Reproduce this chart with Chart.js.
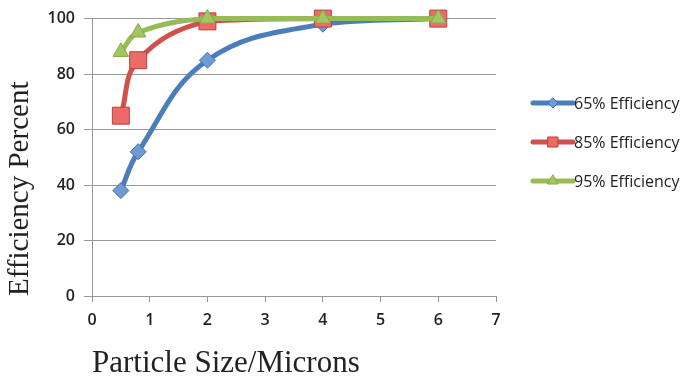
<!DOCTYPE html>
<html>
<head>
<meta charset="utf-8">
<script src="https://cdn.jsdelivr.net/npm/chart.js@4.4.0/dist/chart.umd.min.js"></script>
<style>
  html, body { margin: 0; padding: 0; background: #fff; }
</style>
</head>
<body>
<canvas id="effChart" width="684" height="379"></canvas>
<script>
// particle size in microns, efficiency in percent
const sizes = [0.5, 0.8, 2, 4, 6];
const eff65 = [38, 52, 85, 98, 100];
const eff85 = [65, 85, 99, 100, 100];
const eff95 = [88, 95, 100, 100, 100];
const seriesNames = ['65% Efficiency', '85% Efficiency', '95% Efficiency'];
const xTicks = [0, 1, 2, 3, 4, 5, 6, 7];
const yTicks = [0, 20, 40, 60, 80, 100];

const toPoints = (vals) => sizes.map((s, i) => ({ x: s, y: vals[i] }));

// own marker drawing, used by the legend
function drawMarker(ctx, style, x, y, r, fill, stroke) {
  ctx.beginPath();
  if (style === 'rectRot') {
    ctx.moveTo(x, y - r); ctx.lineTo(x + r, y); ctx.lineTo(x, y + r); ctx.lineTo(x - r, y);
  } else if (style === 'rect') {
    ctx.rect(x - r, y - r, 2 * r, 2 * r);
  } else {
    ctx.moveTo(x, y - r);
    ctx.lineTo(x + r * Math.cos(Math.PI / 6), y + r / 2);
    ctx.lineTo(x - r * Math.cos(Math.PI / 6), y + r / 2);
  }
  ctx.closePath();
  ctx.fillStyle = fill; ctx.fill();
  ctx.lineWidth = 1; ctx.strokeStyle = stroke; ctx.stroke();
}

const sideLegend = {
  id: 'sideLegend',
  afterDraw(chart) {
    const ctx = chart.ctx;
    const x0 = 533, x1 = 573;
    const rows = [103, 142, 181];
    chart.data.datasets.forEach((ds, i) => {
      const y = rows[i];
      ctx.save();
      ctx.strokeStyle = ds.borderColor;
      ctx.lineWidth = 5;
      ctx.lineCap = 'round';
      ctx.beginPath(); ctx.moveTo(x0, y); ctx.lineTo(x1, y); ctx.stroke();
      const r = ds.pointStyle === 'rect' ? 5 : ds.pointStyle === 'triangle' ? 6 : 5;
      drawMarker(ctx, ds.pointStyle, (x0 + x1) / 2, y, r, ds.pointBackgroundColor, ds.pointBorderColor);
      ctx.fillStyle = '#222';
      ctx.font = '16px "Open Sans"';
      ctx.textBaseline = 'middle';
      ctx.textAlign = 'left';
      ctx.fillText(ds.label, x1 + 1, y + 1);
      ctx.restore();
    });
  }
};

const base = { borderWidth: 5, tension: 0.4, clip: false, pointBorderWidth: 1 };
const tickFont = { family: 'Open Sans', size: 16, weight: '600' };

new Chart(document.getElementById('effChart'), {
  type: 'line',
  data: {
    datasets: [
      { ...base, label: seriesNames[0], data: toPoints(eff65), order: 3,
        borderColor: '#4a7ebb', pointStyle: 'rectRot', pointRadius: 8,
        pointBackgroundColor: '#6f9ad3', pointBorderColor: '#3f6fa8' },
      { ...base, label: seriesNames[1], data: toPoints(eff85), order: 2,
        borderColor: '#d2504c', pointStyle: 'rect', pointRadius: 12,
        pointBackgroundColor: '#ec6b67', pointBorderColor: '#b8403c' },
      { ...base, label: seriesNames[2], data: toPoints(eff95), order: 1,
        borderColor: '#98bb55', pointStyle: 'triangle', pointRadius: 9,
        pointBackgroundColor: '#a3c760', pointBorderColor: '#86a848' }
    ]
  },
  options: {
    responsive: false,
    animation: false,
    layout: { padding: { top: 18, right: 188, left: 0, bottom: 0 } },
    plugins: { legend: { display: false }, tooltip: { enabled: false } },
    scales: {
      x: {
        type: 'linear', min: 0, max: 7,
        afterBuildTicks: (s) => { s.ticks = xTicks.map(v => ({ value: v })); },
        afterFit: (s) => { s.height = 83; },
        grid: { drawOnChartArea: false, drawTicks: true, tickLength: 6, color: '#999' },
        border: { color: '#999', width: 1 },
        ticks: { padding: 9, color: '#222', font: tickFont },
        title: { display: true, text: 'Particle Size/Microns', align: 'start', color: '#222',
                 padding: { top: 0, bottom: -3 }, font: { family: 'Liberation Serif', size: 31 } }
      },
      y: {
        type: 'linear', min: 0, max: 100,
        afterBuildTicks: (s) => { s.ticks = yTicks.map(v => ({ value: v })); },
        afterFit: (s) => { s.width = 92; },
        grid: { color: '#999', tickLength: 8 },
        border: { color: '#999', width: 1 },
        ticks: { padding: 9, color: '#222', font: tickFont },
        title: { display: true, text: 'Efficiency Percent', align: 'start', color: '#222',
                 padding: { top: 3, bottom: 0 }, font: { family: 'Liberation Serif', size: 29 } }
      }
    }
  },
  plugins: [sideLegend]
});
</script>
</body>
</html>
